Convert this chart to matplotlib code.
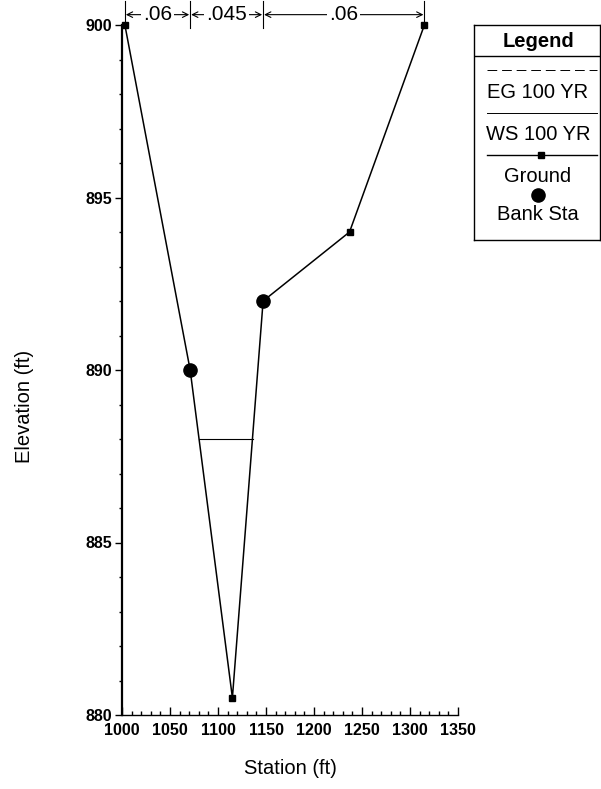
import numpy as np
import matplotlib
matplotlib.use("Agg")
import matplotlib.pyplot as plt
from matplotlib.ticker import MultipleLocator

plt.rcParams['font.family'] = ['Liberation Sans', 'DejaVu Sans']

# Dados da seção transversal
estacoes = [1003, 1071, 1115, 1147, 1237, 1315]
cotas = [900, 890, 880.5, 892, 894, 900]

# margens (bank stations)
bank_est = [1071, 1147]
bank_cota = [890, 892]

# nivel d'agua e linha de energia
ws_cota = 888.0
eg_cota = 888.0
ws_est = [1080, 1136]

# coeficientes de Manning
n_limites = [1003, 1071, 1147, 1315]
n_valores = ['.06', '.045', '.06']

fig = plt.figure(figsize=(6.01, 7.89), dpi=100)
ax = fig.add_axes([122/601, 74/789, (458-122)/601, (715-25)/789])

# Ground
ax.plot(estacoes, cotas, color='black', lw=1.1, marker='s', markersize=5,
        clip_on=False, zorder=3)
# Bank Sta
ax.plot(bank_est, bank_cota, 'o', color='black', markersize=9.5, zorder=4)
# WS e EG
ax.plot(ws_est, [ws_cota, ws_cota], color='black', lw=0.8, zorder=2)
ax.plot(ws_est, [eg_cota, eg_cota], color='black', lw=0.6, ls=(0, (8, 4)), zorder=2)

ax.set_xlim(1000, 1350)
ax.set_ylim(880, 900)
ax.spines['top'].set_visible(False)
ax.spines['right'].set_visible(False)
ax.spines['left'].set_linewidth(1.6)
ax.spines['bottom'].set_linewidth(1.0)

ax.xaxis.set_major_locator(MultipleLocator(50))
ax.xaxis.set_minor_locator(MultipleLocator(10))
ax.yaxis.set_major_locator(MultipleLocator(5))
ax.yaxis.set_minor_locator(MultipleLocator(1))
ax.tick_params(axis='x', which='major', direction='in', length=6, width=1, labelsize=11.5, pad=6)
ax.tick_params(axis='x', which='minor', direction='in', length=3, width=1)
ax.tick_params(axis='y', which='major', direction='out', length=5, width=1, labelsize=11.5, pad=2)
ax.tick_params(axis='y', which='minor', direction='out', length=2, width=1)
for lbl in ax.get_xticklabels() + ax.get_yticklabels():
    lbl.set_fontweight('bold')

ax.set_xlabel('Station (ft)', fontsize=14.5, labelpad=15)
fig.text(25/601, 0.485, 'Elevation (ft)', rotation=90, fontsize=14.5,
         ha='center', va='center')

# Manning's n no topo
y_n = 900.3
for x in n_limites:
    ax.plot([x, x], [899.9, 900.7], color='black', lw=0.8, clip_on=False)
for i, txt in enumerate(n_valores):
    x0, x1 = n_limites[i], n_limites[i + 1]
    ax.annotate('', xy=(x0 + 1, y_n), xytext=(x1 - 1, y_n),
                arrowprops=dict(arrowstyle='<->', lw=0.8, color='black',
                                shrinkA=0, shrinkB=0), annotation_clip=False)
    ax.text((x0 + x1) / 2, y_n, txt, ha='center', va='center', fontsize=15,
            bbox=dict(facecolor='white', edgecolor='none', pad=1.5), clip_on=False)

# Legenda desenhada à mão
lg = fig.add_axes([474/601, (789-240)/789, 126/601, 215/789])
lg.set_xlim(474, 600)
lg.set_ylim(240, 25)
lg.set_xticks([])
lg.set_yticks([])
for s in lg.spines.values():
    s.set_linewidth(1.0)
lg.text(538, 41, 'Legend', ha='center', va='center', fontsize=14.5, fontweight='bold')
lg.plot([474, 600], [56, 56], color='black', lw=1.0)
lg.plot([487, 597], [70, 70], color='black', lw=0.7, ls=(0, (10, 5)))
lg.text(538, 92, 'EG 100 YR', ha='center', va='center', fontsize=14.5)
lg.plot([487, 597], [113, 113], color='black', lw=0.7)
lg.text(538, 135, 'WS 100 YR', ha='center', va='center', fontsize=14.5)
lg.plot([487, 597], [155, 155], color='black', lw=1.0)
lg.plot([541], [155], 's', color='black', markersize=5)
lg.text(538, 177, 'Ground', ha='center', va='center', fontsize=14.5)
lg.plot([538], [195], 'o', color='black', markersize=9.5)
lg.text(538, 214, 'Bank Sta', ha='center', va='center', fontsize=14.5)

plt.savefig('out.png', dpi=100)
